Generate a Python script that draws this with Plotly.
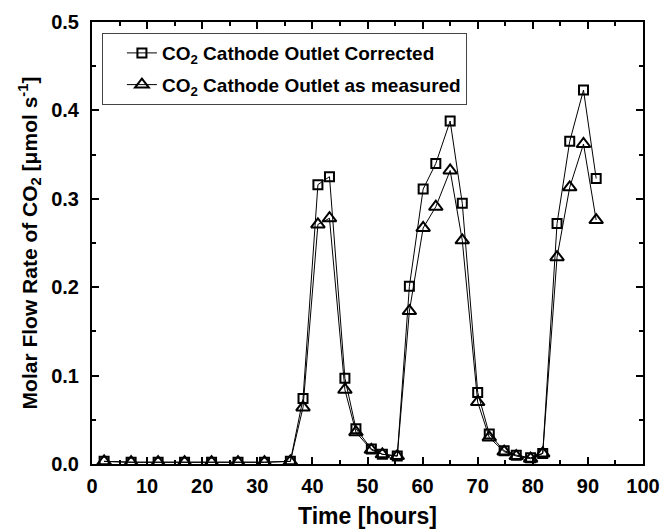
import plotly.graph_objects as go

# Sampling times (hours) and CO2 molar flow at the cathode outlet (umol/s)
time_h = [2.2, 7.1, 12.0, 16.8, 21.7, 26.5, 31.3, 36.0, 38.3, 41.0, 43.1,
          45.9, 47.9, 50.7, 52.7, 55.4, 57.6, 60.1, 62.4, 65.0, 67.2, 70.0,
          72.1, 74.8, 77.0, 79.6, 81.8, 84.4, 86.7, 89.2, 91.5]
co2_corrected = [0.003, 0.002, 0.002, 0.002, 0.002, 0.002, 0.002, 0.003,
                 0.074, 0.316, 0.325, 0.097, 0.040, 0.017, 0.011, 0.009,
                 0.201, 0.311, 0.340, 0.388, 0.295, 0.081, 0.034, 0.015,
                 0.010, 0.007, 0.012, 0.272, 0.365, 0.423, 0.323]
co2_measured = [0.003, 0.002, 0.002, 0.002, 0.002, 0.002, 0.002, 0.003,
                0.064, 0.271, 0.278, 0.084, 0.036, 0.016, 0.011, 0.009,
                0.173, 0.267, 0.291, 0.332, 0.253, 0.070, 0.030, 0.014,
                0.009, 0.006, 0.012, 0.234, 0.313, 0.362, 0.276]

x_ticks = [0, 10, 20, 30, 40, 50, 60, 70, 80, 90, 100]
y_ticks = [0.0, 0.1, 0.2, 0.3, 0.4, 0.5]

FONT = "Liberation Sans, Arial, sans-serif"

fig = go.Figure()
fig.add_trace(go.Scatter(
    x=time_h, y=co2_corrected, mode="lines+markers",
    name="CO<sub>2</sub> Cathode Outlet Corrected",
    legendgroup="a",
    line=dict(color="black", width=1),
    marker=dict(symbol="square-open", size=9, color="black",
                line=dict(width=2, color="black")),
))
fig.add_trace(go.Scatter(
    x=time_h, y=co2_measured, mode="lines+markers",
    name="CO<sub>2</sub> Cathode Outlet as measured",
    legendgroup="b",
    line=dict(color="black", width=1),
    marker=dict(symbol="triangle-up-open", size=12, color="black",
                line=dict(width=2, color="black")),
))

axis_common = dict(
    showline=True, linecolor="black", linewidth=2, mirror="allticks",
    ticks="inside", ticklen=7, tickwidth=1.5, tickcolor="black",
    showgrid=False, zeroline=False,
    tickfont=dict(family=FONT, size=20, color="black", weight="bold"),
)

fig.update_xaxes(
    range=[0, 100], tickvals=x_ticks, ticktext=[str(v) for v in x_ticks],
    ticklabelstandoff=3,
    minor=dict(dtick=5, ticks="inside", ticklen=4, tickwidth=1.5,
               tickcolor="black", showgrid=False),
    title=dict(text="Time [hours]", standoff=12,
               font=dict(family=FONT, size=23, color="black", weight="bold")),
    **axis_common,
)
fig.update_yaxes(
    range=[0, 0.5], tickvals=y_ticks, ticktext=[f"{v:.1f}" for v in y_ticks],
    ticklabelstandoff=7,
    minor=dict(dtick=0.05, ticks="inside", ticklen=4, tickwidth=1.5,
               tickcolor="black", showgrid=False),
    title=dict(text="Molar Flow Rate of CO<sub>2</sub> [\u03bcmol s<sup>-1</sup>]",
               standoff=8,
               font=dict(family=FONT, size=21, color="black", weight="bold")),
    **axis_common,
)

fig.update_layout(
    width=662, height=529,
    margin=dict(l=92, r=19, t=22, b=65, autoexpand=False),
    paper_bgcolor="white", plot_bgcolor="white",
    showlegend=True,
    legend=dict(
        x=0.018, y=0.975, xanchor="left", yanchor="top",
        bgcolor="white", bordercolor="#444", borderwidth=1,
        font=dict(family=FONT, size=19, color="black", weight="bold"),
        traceorder="grouped", tracegroupgap=4, indentation=19,
    ),
)

fig.write_html("out.html")
